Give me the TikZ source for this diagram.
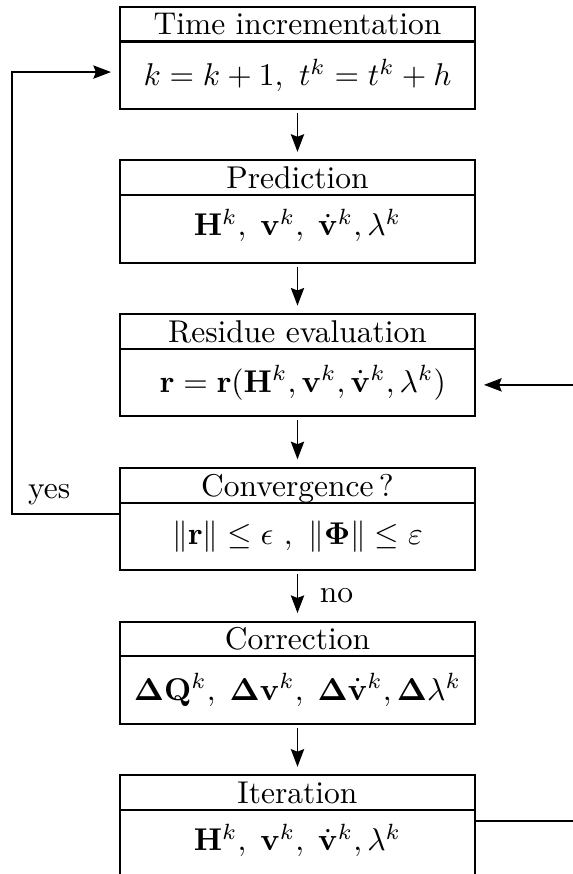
\documentclass[tikz,border=0pt]{standalone}
\usepackage{amsmath}
\usepackage{amssymb}
\usetikzlibrary{positioning,arrows.meta}
\tikzset{
  tbox/.style={draw,line width=0.65pt,outer sep=0pt,inner ysep=1pt,
               minimum width=112.4pt,minimum height=11.05pt,
               text height=6.9pt,text depth=0pt,text centered},
  ebox/.style={draw,line width=0.65pt,outer sep=0pt,
               minimum width=112.4pt,minimum height=21.4pt,text centered},
  arr/.style={-{Stealth[length=5.6pt,width=4.2pt,inset=0.8pt]},line width=0.6pt,
              shorten >=3pt},
  sarr/.style={arr,shorten <=1.3pt,shorten >=2.7pt},
}

\begin{document}
\begin{tikzpicture}[node distance=16.35pt]
  \useasboundingbox (0,0) rectangle (181.9pt,-277.46pt);
  \clip (0,0) rectangle (181.9pt,-277.46pt);
  % blocks
  \node[tbox] (t1) at (94.44pt,-7.65pt) {Time incrementation};
  \node[ebox,below=0pt of t1] (e1) {$k = k+1,\ t^k = t^k+h$};
  \node[tbox,below=of e1] (t2) {Prediction};
  \node[ebox,below=0pt of t2] (e2)
       {\raisebox{4pt}{$\mathbf{H}^k,\;\mathbf{v}^k,\;\dot{\mathbf{v}}^k,\lambda^k$}};
  \node[tbox,below=of e2] (t3) {Residue evaluation};
  \node[ebox,below=0pt of t3] (e3)
       {$\ \mathbf{r} = \mathbf{r}(\mathbf{H}^k, \mathbf{v}^k, \dot{\mathbf{v}}^k, \lambda^k)$};
  \node[tbox,below=of e3] (t4) {Convergence\,?};
  \node[ebox,below=0pt of t4] (e4)
       {$\|\mathbf{r}\| \leq \epsilon\ ,\ \|\mathbf{\Phi}\| \leq \varepsilon$};
  \node[tbox,below=of e4] (t5) {Correction};
  \node[ebox,below=0pt of t5] (e5)
       {$\mathbf{\Delta}\mathbf{Q}^k,\;\mathbf{\Delta}\mathbf{v}^k,\;\mathbf{\Delta}\dot{\mathbf{v}}^k,\mathbf{\Delta}\lambda^k$};
  \node[tbox,below=of e5] (t6) {Iteration};
  \node[ebox,below=0pt of t6] (e6)
       {\raisebox{4pt}{$\mathbf{H}^k,\;\mathbf{v}^k,\;\dot{\mathbf{v}}^k,\lambda^k$}};
  % flow
  \draw[sarr] (e1)--(t2);
  \draw[sarr] (e2)--(t3);
  \draw[sarr] (e3)--(t4);
  \draw[sarr] (e4)--(t5) node[midway,right,xshift=3.5pt]{no};
  \draw[sarr] (e5)--(t6);
  % loops
  \draw[arr] ([yshift=-3.5pt]e4.north west) -- ++(-34.4pt,0)
       node[above right,inner sep=0pt,xshift=4.8pt,yshift=2.5pt]{yes}
       |- ([yshift=-9.7pt]e1.north west);
  \draw[arr] ([yshift=-3.5pt]e6.north east) -- ++(40pt,0)
       |- ([yshift=-11.4pt]e3.north east);
\end{tikzpicture}
\end{document}
